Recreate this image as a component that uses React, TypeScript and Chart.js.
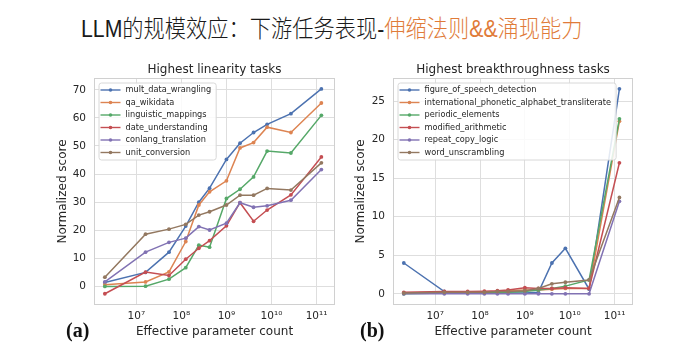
import React, { useEffect, useRef } from "react";
import { Chart, registerables } from "chart.js";

Chart.register(...registerables);

// ---------- data ----------
const paramCounts = [2e6, 1.6e7, 5.3e7, 1.25e8, 2.44e8, 4.22e8, 1e9, 2e9, 4e9, 8e9, 2.7e10, 1.28e11];
const xTickValues = [1e7, 1e8, 1e9, 1e10, 1e11];
const xTickLabels = ["10⁷", "10⁸", "10⁹", "10¹⁰", "10¹¹"];
const seriesColors = ["#4C72B0", "#DD8452", "#55A868", "#C44E52", "#8172B3", "#937860"];

// Highest linearity tasks
const linearityLabels = [
  "mult_data_wrangling",
  "qa_wikidata",
  "linguistic_mappings",
  "date_understanding",
  "conlang_translation",
  "unit_conversion",
];
const multDataWrangling = [1.4, 5.0, 12.2, 21.5, 30.0, 35.0, 45.2, 51.0, 54.8, 57.7, 61.5, 70.3];
const qaWikidata = [0.6, 1.6, 5.2, 16.0, 29.0, 33.7, 37.6, 49.3, 51.2, 56.7, 54.8, 65.3];
const linguisticMappings = [0.0, 0.1, 2.6, 6.7, 14.7, 14.0, 31.3, 34.6, 39.0, 48.2, 47.5, 60.9];
const dateUnderstanding = [-2.6, 5.1, 3.9, 9.7, 13.6, 16.3, 21.6, 29.8, 23.2, 27.2, 32.6, 46.1];
const conlangTranslation = [1.6, 12.2, 15.7, 17.2, 21.3, 20.1, 22.5, 29.8, 28.2, 28.7, 30.7, 41.6];
const unitConversion = [3.3, 18.6, 20.4, 22.1, 25.4, 26.6, 29.0, 32.5, 32.5, 34.9, 34.3, 44.0];
const linearityValues = [
  multDataWrangling,
  qaWikidata,
  linguisticMappings,
  dateUnderstanding,
  conlangTranslation,
  unitConversion,
];

// Highest breakthroughness tasks
const breakthroughLabels = [
  "figure_of_speech_detection",
  "international_phonetic_alphabet_transliterate",
  "periodic_elements",
  "modified_arithmetic",
  "repeat_copy_logic",
  "word_unscrambling",
];
const figureOfSpeech = [4.0, 0.3, 0.1, 0.1, 0.1, 0.1, 0.1, 0.2, 4.0, 5.9, 0.6, 26.6];
const ipaTransliterate = [0.1, 0.2, 0.2, 0.2, 0.3, 0.4, 0.5, 0.5, 0.6, 0.7, 0.7, 22.4];
const periodicElements = [0.0, 0.1, 0.1, 0.1, 0.2, 0.2, 0.3, 0.5, 0.7, 1.0, 1.8, 22.7];
const modifiedArithmetic = [0.2, 0.3, 0.3, 0.35, 0.4, 0.5, 0.8, 0.7, 0.7, 0.8, 0.7, 17.0];
const repeatCopyLogic = [0, 0, 0, 0, 0, 0, 0, 0, 0, 0, 0, 12.0];
const wordUnscrambling = [0.1, 0.2, 0.2, 0.2, 0.3, 0.3, 0.4, 0.7, 1.3, 1.5, 1.8, 12.5];
const breakthroughValues = [
  figureOfSpeech,
  ipaTransliterate,
  periodicElements,
  modifiedArithmetic,
  repeatCopyLogic,
  wordUnscrambling,
];

const linearityYTicks = { min: -6.6, max: 74.2, step: 10 };
const breakthroughYTicks = { min: -1.45, max: 28, step: 5 };
const xRange = { min: Math.pow(10, 6.06), max: Math.pow(10, 11.41) };

// ---------- styling ----------
const FONT = '"DejaVu Sans", sans-serif';
const TEXT = "#262626";
const GRID = "#dedede";
const FRAME = "#d0d0d0";

function decorPlugin(title: string, labels: string[]) {
  return {
    id: "decor",
    beforeDatasetsDraw(chart: any) {
      const { ctx, chartArea: ca } = chart;
      ctx.save();
      ctx.strokeStyle = FRAME;
      ctx.lineWidth = 1;
      ctx.strokeRect(ca.left + 0.5, ca.top + 0.5, ca.right - ca.left - 1, ca.bottom - ca.top - 1);
      ctx.restore();
    },
    afterDraw(chart: any) {
      const { ctx, chartArea: ca } = chart;
      ctx.save();
      // title
      ctx.font = `12px ${FONT}`;
      ctx.fillStyle = TEXT;
      ctx.textAlign = "center";
      ctx.textBaseline = "middle";
      ctx.fillText(title, (ca.left + ca.right) / 2, ca.top - 8);

      // legend
      ctx.font = `8.2px ${FONT}`;
      const maxW = Math.max(...labels.map((l) => ctx.measureText(l).width));
      const x0 = ca.left + 4.5;
      const y0 = ca.top + 4.5;
      const rowH = 12.5;
      const w = 27 + maxW + 4.5;
      const h = rowH * (labels.length - 1) + 14.5;
      ctx.beginPath();
      (ctx as any).roundRect(x0 + 0.5, y0 + 0.5, w, h, 2.5);
      ctx.fillStyle = "rgba(255,255,255,0.85)";
      ctx.fill();
      ctx.strokeStyle = "#d8d8d8";
      ctx.lineWidth = 1;
      ctx.stroke();
      ctx.textAlign = "left";
      labels.forEach((lab, i) => {
        const yc = y0 + 7.5 + i * rowH;
        const color = seriesColors[i];
        ctx.strokeStyle = color;
        ctx.lineWidth = 1.4;
        ctx.beginPath();
        ctx.moveTo(x0 + 2, yc);
        ctx.lineTo(x0 + 22, yc);
        ctx.stroke();
        ctx.fillStyle = color;
        ctx.beginPath();
        ctx.arc(x0 + 12, yc, 1.8, 0, Math.PI * 2);
        ctx.fill();
        ctx.fillStyle = TEXT;
        ctx.fillText(lab, x0 + 27, yc);
      });
      ctx.restore();
    },
  };
}

type PanelProps = {
  left: number;
  title: string;
  labels: string[];
  values: number[][];
  yTicks: { min: number; max: number; step: number };
  yAxisWidth: number;
  rightPad: number;
  yTitlePad: number;
};

function Panel(p: PanelProps) {
  const ref = useRef<HTMLCanvasElement | null>(null);
  useEffect(() => {
    if (!ref.current) return;
    const n = p.labels.length;
    const chart = new Chart(ref.current, {
      type: "line",
      data: {
        datasets: p.labels.map((lab, i) => ({
          label: lab,
          data: paramCounts.map((x, j) => ({ x, y: p.values[i][j] })),
          borderColor: seriesColors[i],
          backgroundColor: seriesColors[i],
          borderWidth: 1.5,
          pointRadius: 1.9,
          pointBorderWidth: 0,
          pointBackgroundColor: seriesColors[i],
          tension: 0,
          fill: false,
          order: n - 1 - i,
        })),
      },
      options: {
        responsive: false,
        animation: false,
        devicePixelRatio: 1,
        layout: { padding: { left: 0, right: p.rightPad, top: 22, bottom: 0 } },
        plugins: {
          legend: { display: false },
          tooltip: { enabled: false },
          title: { display: false },
        },
        scales: {
          x: {
            type: "logarithmic",
            min: xRange.min,
            max: xRange.max,
            afterBuildTicks: (s: any) => {
              s.ticks = xTickValues.map((v) => ({ value: v, major: true }));
            },
            afterFit: (s: any) => {
              s.height = 39;
            },
            ticks: {
              autoSkip: false,
              maxRotation: 0,
              padding: 4.5,
              color: TEXT,
              font: { family: FONT, size: 10.5 },
              callback: (v: any) => {
                const idx = xTickValues.indexOf(Number(v));
                return idx >= 0 ? xTickLabels[idx] : "";
              },
            },
            grid: { color: GRID, drawTicks: false, lineWidth: 1 },
            border: { display: false },
            title: {
              display: true,
              text: "Effective parameter count",
              color: TEXT,
              font: { family: FONT, size: 12 },
              padding: { top: 0, bottom: 4.5 },
            },
          },
          y: {
            type: "linear",
            min: p.yTicks.min,
            max: p.yTicks.max,
            afterFit: (s: any) => {
              s.width = p.yAxisWidth;
            },
            ticks: {
              stepSize: p.yTicks.step,
              includeBounds: false,
              padding: 8,
              color: TEXT,
              font: { family: FONT, size: 10.5 },
            },
            grid: { color: GRID, drawTicks: false, lineWidth: 1 },
            border: { display: false },
            title: {
              display: true,
              text: "Normalized score",
              color: TEXT,
              font: { family: FONT, size: 12 },
              padding: { top: p.yTitlePad, bottom: 0 },
            },
          },
        },
      } as any,
      plugins: [decorPlugin(p.title, p.labels)],
    });
    return () => chart.destroy();
  }, []);
  return (
    <canvas
      ref={ref}
      width={340}
      height={288}
      style={{ position: "absolute", left: p.left, top: 56, width: 340, height: 288 }}
    />
  );
}

const panelLabelStyle: React.CSSProperties = {
  position: "absolute",
  top: 318,
  fontFamily: '"Liberation Serif", serif',
  fontWeight: "bold",
  fontSize: 20,
  lineHeight: "24px",
  color: "#111",
};

export default function App() {
  return (
    <div
      style={{
        position: "absolute",
        left: 0,
        top: 0,
        width: 680,
        height: 344,
        background: "#ffffff",
        overflow: "hidden",
      }}
    >
      <div
        style={{
          position: "absolute",
          left: 81,
          top: 14,
          whiteSpace: "nowrap",
          fontFamily: '"Liberation Sans", "Noto Sans CJK SC", sans-serif',
          fontSize: 24,
          fontWeight: 300,
          lineHeight: "30px",
          color: "#1a1a1a",
          transform: "scaleX(0.885)",
          transformOrigin: "left center",
        }}
      >
        LLM的规模效应：下游任务表现-<span style={{ color: "#E07B39" }}>伸缩法则&amp;&amp;涌现能力</span>
      </div>
      <Panel
        left={0}
        title="Highest linearity tasks"
        labels={linearityLabels}
        values={linearityValues}
        yTicks={linearityYTicks}
        yAxisWidth={94}
        rightPad={5}
        yTitlePad={55.8}
      />
      <Panel
        left={340}
        title="Highest breakthroughness tasks"
        labels={breakthroughLabels}
        values={breakthroughValues}
        yTicks={breakthroughYTicks}
        yAxisWidth={53}
        rightPad={47}
        yTitlePad={13.8}
      />
      <div style={{ ...panelLabelStyle, left: 66 }}>(a)</div>
      <div style={{ ...panelLabelStyle, left: 360 }}>(b)</div>
    </div>
  );
}
